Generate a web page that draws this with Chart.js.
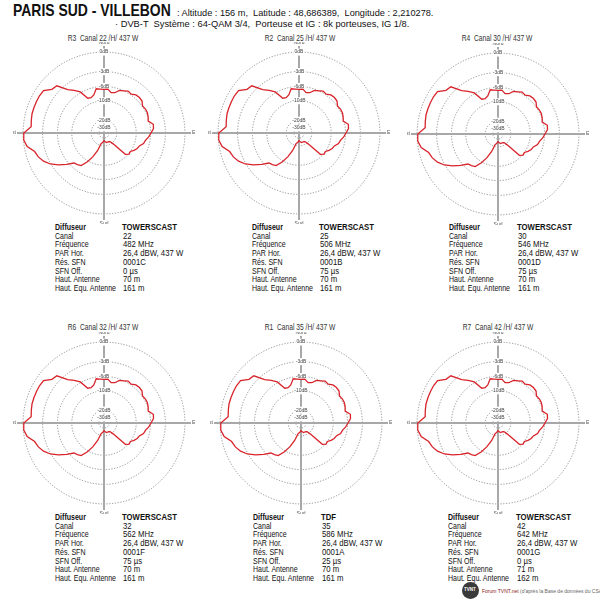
<!DOCTYPE html>
<html lang="fr">
<head>
<meta charset="UTF-8">
<title>Paris Sud - Villebon</title>
<script src="https://cdn.jsdelivr.net/npm/chart.js"></script>
<style>
  body { margin: 0; background: #fff; font-family: "Liberation Sans", Arial, sans-serif; color: #111; }
  #page { position: relative; width: 600px; height: 600px; overflow: hidden; }
  .abs { position: absolute; white-space: pre; }
  .title { font-size: 8.8px; color: #333; transform-origin: center center; transform: translate(-50%, -50%) scaleX(0.76); }
  .row { font-size: 8.8px; line-height: 9px; transform-origin: left center; transform: translateY(-50%) scaleX(0.8); }
  .val { font-size: 8.8px; line-height: 9px; transform-origin: left center; transform: translateY(-50%) scaleX(0.88); }
  .bold { font-weight: bold; }
  canvas { position: absolute; }
</style>
</head>
<body>
<div id="page">
  <div class="abs bold" style="left:13px; top:1px; font-size:17px; transform-origin:left top; transform:scaleX(0.82);">PARIS SUD - VILLEBON</div>
  <div class="abs" style="left:177px; top:8px; font-size:9.2px;">: Altitude : 156 m,  Latitude : 48,686389,  Longitude : 2,210278.</div>
  <div class="abs" style="left:115px; top:19px; font-size:9.3px;">· DVB-T  Système : 64-QAM 3/4,  Porteuse et IG : 8k porteuses, IG 1/8.</div>
  <div class="abs" style="left:462px; top:582px; width:17px; height:17px; border-radius:50%; background:#3a3a3a;"></div>
  <div class="abs" style="left:464px; top:587px; font-size:4.5px; color:#fff; font-weight:bold;">TVNT</div>
  <div class="abs" style="left:482px; top:588px; font-size:5px; color:#8b1a1a;">Forum TVNT.net <span style="color:#666">(d'après la Base de données du CSA)</span></div>
</div>

<script>
// angles (degrés, sens horaire depuis le Nord)
const angles = Array.from({ length: 72 }, (_, i) => i * 5);

// cercles du diagramme (dB)
const ringDb = [-30, -20, -10, -6, -3, 0];
const ringLabels = ['-30dB', '-20dB', '-10dB', '-6dB', '-3dB', '0dB'];

// diagramme horizontal (dB, pas de 5°)
const patR3 = [-6.7,-6.6,-7.4,-7.2,-6.3,-6.0,-5.6,-5.8,-5.3,-5.2,-5.3,-5.9,
  -5.7,-5.7,-5.9,-6.2,-5.2,-5.3,-5.9,-6.4,-7.1,-7.4,-8.3,-8.6,
  -9.2,-10.0,-9.8,-10.7,-18.9,-22.2,-22.6,-22.9,-22.9,-22.9,-23.7,-24.6,
  -25.5,-24.1,-22.9,-21.9,-16.0,-12.3,-9.7,-7.7,-7.3,-7.0,-5.5,-4.1,
  -2.9,-2.1,-1.6,-1.3,-0.4,-0.05,-0.1,-1.1,-1.0,-0.9,-0.9,-0.9,
  -0.9,-1.0,-1.9,-2.1,-3.9,-4.8,-5.8,-8.1,-8.3,-7.8,-6.4,-6.6];
// les autres canaux montrent le même diagramme d'antenne
const patR2 = patR3.slice();
const patR4 = patR3.slice();
const patR6 = patR3.slice();
const patR1 = patR3.slice();
const patR7 = patR3.slice();

const emetteurs = ['R3', 'R2', 'R4', 'R6', 'R1', 'R7'];
const canaux = ['22', '25', '30', '32', '35', '42'];
const diffuseurs = ['TOWERSCAST', 'TOWERSCAST', 'TOWERSCAST', 'TOWERSCAST', 'TDF', 'TOWERSCAST'];
const frequences = ['482 MHz', '506 MHz', '546 MHz', '562 MHz', '586 MHz', '642 MHz'];
const parHor = ['26,4 dBW, 437 W', '26,4 dBW, 437 W', '26,4 dBW, 437 W', '26,4 dBW, 437 W', '26,4 dBW, 437 W', '26,4 dBW, 437 W'];
const resSfn = ['0001C', '0001B', '0001D', '0001F', '0001A', '0001G'];
const sfnOff = ['0 µs', '75 µs', '75 µs', '75 µs', '25 µs', '0 µs'];
const hautAnt = ['70 m', '70 m', '70 m', '70 m', '70 m', '71 m'];
const hautEqu = ['161 m', '161 m', '161 m', '161 m', '161 m', '162 m'];
const patterns = [patR3, patR2, patR4, patR6, patR1, patR7];

const rowLabels = ['Diffuseur', 'Canal', 'Fréquence', 'PAR Hor.', 'Rés. SFN', 'SFN Off.', 'Haut. Antenne', 'Haut. Equ. Antenne'];

// mise en page
const centers = [[104, 133], [299, 133], [498, 134], [104, 423], [301, 423], [498, 423]];
const titleXY = [[103, 38], [300, 38], [497, 38], [103, 327], [300, 327], [498, 327]];
const colLabel = [55, 252, 449, 55, 253, 448];
const colValue = [123, 320, 518, 123, 322, 517];
const tableTop = [227, 227, 227, 517, 517, 517];
const rowStep = 8.7;
const size = 182;
const maxR = 1.075;

const page = document.getElementById('page');
const toR = db => Math.pow(10, db / 25);

function addText(cls, x, y, txt) {
  const d = document.createElement('div');
  d.className = 'abs ' + cls;
  d.style.left = x + 'px';
  d.style.top = y + 'px';
  d.textContent = txt;
  page.appendChild(d);
}

const cardinal = {
  id: 'cardinal',
  afterDraw(chart) {
    const s = chart.scales.r;
    const c = chart.ctx;
    const d = s.drawingArea;
    c.save();
    c.font = '5px "Liberation Sans", Arial';
    c.fillStyle = '#555';
    c.textAlign = 'center';
    c.textBaseline = 'bottom';
    c.fillText('Nord', s.xCenter, s.yCenter - d - 1);
    c.textBaseline = 'top';
    c.fillText('Sud', s.xCenter, s.yCenter + d + 1);
    c.textBaseline = 'middle';
    c.textAlign = 'right';
    c.fillText('Ouest', s.xCenter - d - 1, s.yCenter);
    c.textAlign = 'left';
    c.fillText('Est', s.xCenter + d + 1, s.yCenter);
    c.restore();
  }
};

emetteurs.forEach((em, k) => {
  addText('title', titleXY[k][0], titleXY[k][1], em + '  Canal ' + canaux[k] + ' /H/ 437 W');

  const vals = [diffuseurs[k], canaux[k], frequences[k], parHor[k], resSfn[k], sfnOff[k], hautAnt[k], hautEqu[k]];
  rowLabels.forEach((lab, i) => {
    const y = tableTop[k] + i * rowStep;
    addText('row' + (i === 0 ? ' bold' : ''), colLabel[k], y, lab);
    addText('val' + (i === 0 ? ' bold' : ''), colValue[k] - (i === 0 ? 1.5 : 0), y, vals[i]);
  });

  const cv = document.createElement('canvas');
  cv.width = size;
  cv.height = size;
  cv.style.left = (centers[k][0] - size / 2) + 'px';
  cv.style.top = (centers[k][1] - size / 2) + 'px';
  page.appendChild(cv);

  new Chart(cv, {
    type: 'radar',
    data: {
      labels: angles,
      datasets: [{
        data: patterns[k].map(toR),
        borderColor: '#d8232a',
        borderWidth: 1.3,
        pointRadius: 0,
        fill: false,
        tension: 0
      }]
    },
    options: {
      responsive: false,
      animation: false,
      layout: { padding: 0 },
      plugins: { legend: { display: false }, tooltip: { enabled: false } },
      scales: {
        r: {
          min: 0,
          max: maxR,
          afterBuildTicks: s => { s.ticks = [0].concat(ringDb.map(toR)).map(v => ({ value: v })); },
          ticks: {
            callback: (v, i) => i === 0 ? '' : ringLabels[i - 1],
            font: { size: 5, family: '"Liberation Sans", Arial' },
            color: '#444',
            backdropColor: '#fff',
            backdropPadding: 1
          },
          grid: { color: '#777', lineWidth: 0.8, circular: true },
          border: { dash: [1.2, 1.6] },
          angleLines: {
            color: '#a8a8a8',
            lineWidth: ctx => (ctx.index % 18 === 0 ? 2 : 0)
          },
          pointLabels: { display: false }
        }
      }
    },
    plugins: [cardinal]
  });
});
</script>
</body>
</html>
